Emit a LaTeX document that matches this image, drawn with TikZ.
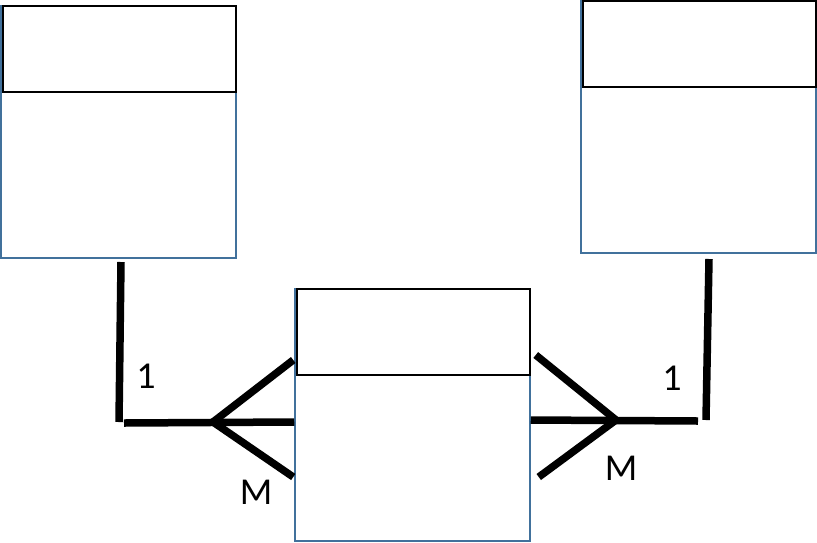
\documentclass[tikz,border=0pt]{standalone}
\usepackage{fontspec}
\setmainfont{Carlito}
\usetikzlibrary{calc}
\definecolor{entblue}{RGB}{65,113,156}

\begin{document}
\begin{tikzpicture}[x=1pt, y=-1pt,
    entity/.style={rectangle, draw=entblue, line width=1.5pt, inner sep=0pt, minimum width=235pt, minimum height=252pt},
    header/.style={rectangle, draw=black, line width=1.6pt, inner sep=0pt, minimum width=233pt, minimum height=86pt, anchor=north east},
    rel/.style={line width=7.5pt},
    card/.style={font=\fontsize{38}{40}\selectfont}]
    \useasboundingbox (0,0) rectangle (817,542);

    \node[entity] (left) at (118.5,132) {};
    \node[entity] (right) at (698.5,127) {};
    \node[entity] (mid) at (412.5,415) {};
    \node[header] (lefth) at (left.north east) {};
    \node[header] (righth) at (right.north east) {};
    \node[header] (midh) at (mid.north east) {};

    \coordinate (ltop) at (121,262);
    \coordinate (lcorner) at (119,422);
    \coordinate (lfoot) at (213,422);
    \coordinate (rtop) at (709,259);
    \coordinate (rcorner) at (706,420);
    \coordinate (rfoot) at (616,420);

    \draw[rel] (ltop) -- (lcorner);
    \draw[rel] ($(lcorner)+(5,1)$) -- (mid.west |- lfoot);
    \draw[rel] (lfoot) -- ($(mid.west)+(-1,-55)$);
    \draw[rel] (lfoot) -- ($(mid.west)+(-1,62)$);

    \draw[rel] (rtop) -- (rcorner);
    \draw[rel] ($(rcorner)+(-8,1)$) -- (mid.east |- rfoot);
    \draw[rel] (rfoot) -- ($(mid.east)+(5,-60)$);
    \draw[rel] (rfoot) -- ($(mid.east)+(8,62)$);

    \node[card] (l1) at (146,376) {1};
    \node[card] (lm) at (256,492) {M};
    \node[card] (r1) at (672,378) {1};
    \node[card] (rm) at (621,468) {M};
\end{tikzpicture}
\end{document}
